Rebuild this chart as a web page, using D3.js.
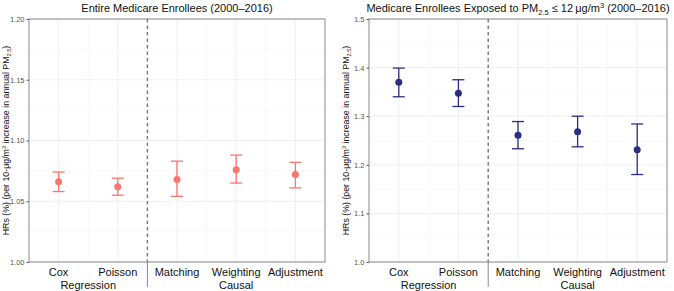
<!DOCTYPE html>
<html>
<head>
<meta charset="utf-8">
<script src="https://cdn.jsdelivr.net/npm/d3@7"></script>
<style>
  body { margin: 0; background: #fff; }
  text { font-family: "Liberation Sans", Arial, sans-serif; }
</style>
</head>
<body>
<div id="chart"></div>
<script>
// data
const categories = ["Cox", "Poisson", "Matching", "Weighting", "Adjustment"];
const groupLabels = [
  { name: "Regression", at: ["Cox", "Poisson"] },
  { name: "Causal", at: ["Weighting"] }
];

const allEst = [1.066, 1.062, 1.068, 1.076, 1.072];
const allLo  = [1.058, 1.055, 1.054, 1.065, 1.061];
const allHi  = [1.074, 1.069, 1.083, 1.088, 1.082];
const allTicks = [1.00, 1.05, 1.10, 1.15, 1.20];

const lowEst = [1.370, 1.347, 1.261, 1.268, 1.231];
const lowLo  = [1.340, 1.320, 1.233, 1.237, 1.180];
const lowHi  = [1.399, 1.375, 1.289, 1.300, 1.284];
const lowTicks = [1.0, 1.1, 1.2, 1.3, 1.4, 1.5];

const W = 674, H = 291;
const svg = d3.select("#chart").append("svg")
  .attr("width", W).attr("height", H);

function panel(opts) {
  const { left, right, top, bottom, est, lo, hi, ticks, fmt, color } = opts;
  const g = svg.append("g");

  const x = d3.scalePoint()
    .domain(categories)
    .range([left, right])
    .padding(0.5);
  const step = x.step();

  const y = d3.scaleLinear()
    .domain([ticks[0], ticks[ticks.length - 1]])
    .range([bottom, top]);

  // minor grid (y)
  const minor = ticks.slice(1).map((t, i) => (t + ticks[i]) / 2);
  g.append("g").selectAll("line").data(minor).join("line")
    .attr("x1", left).attr("x2", right)
    .attr("y1", d => y(d)).attr("y2", d => y(d))
    .attr("stroke", "#f3f3f3").attr("stroke-width", 0.6);
  // major grid (y)
  g.append("g").selectAll("line").data(ticks).join("line")
    .attr("x1", left).attr("x2", right)
    .attr("y1", d => y(d)).attr("y2", d => y(d))
    .attr("stroke", "#ebebeb").attr("stroke-width", 0.8);
  // vertical grid at categories and midpoints
  const vx = [];
  categories.forEach((c, i) => {
    vx.push({ v: x(c), major: true });
    if (i < categories.length - 1 && i !== 1) vx.push({ v: x(c) + step / 2, major: false });
  });
  g.append("g").selectAll("line").data(vx).join("line")
    .attr("x1", d => d.v).attr("x2", d => d.v)
    .attr("y1", top).attr("y2", bottom)
    .attr("stroke", d => d.major ? "#ebebeb" : "#f3f3f3")
    .attr("stroke-width", d => d.major ? 0.8 : 0.6);

  // panel border
  g.append("rect")
    .attr("x", left).attr("y", top)
    .attr("width", right - left).attr("height", bottom - top)
    .attr("fill", "none").attr("stroke", "#8a8a8a").attr("stroke-width", 1);

  // y axis
  const yAxis = g.append("g")
    .attr("transform", `translate(${left},0)`)
    .call(d3.axisLeft(y).tickValues(ticks).tickFormat(d3.format(fmt)).tickSize(2.5).tickPadding(2));
  yAxis.select(".domain").remove();
  yAxis.selectAll(".tick line").attr("stroke", "#555");
  yAxis.selectAll(".tick text").attr("fill", "#555").style("font-size", "7.5px");

  // divider between regression and causal
  const divX = x("Poisson") + step / 2;
  g.append("line")
    .attr("x1", divX).attr("x2", divX).attr("y1", top).attr("y2", bottom)
    .attr("stroke", "#777").attr("stroke-width", 1.4).attr("stroke-dasharray", "3.5,3");
  g.append("line")
    .attr("x1", divX).attr("x2", divX).attr("y1", bottom).attr("y2", bottom + 25)
    .attr("stroke", "#888").attr("stroke-width", 1);

  // x labels
  g.append("g").selectAll("text").data(categories).join("text")
    .attr("x", d => x(d)).attr("y", bottom + 14)
    .attr("text-anchor", "middle")
    .style("font-size", "11px").attr("fill", "#111")
    .text(d => d);
  g.append("g").selectAll("text").data(groupLabels).join("text")
    .attr("x", d => d3.mean(d.at, c => x(c))).attr("y", bottom + 26.5)
    .attr("text-anchor", "middle")
    .style("font-size", "11px").attr("fill", "#111")
    .text(d => d.name);

  // y title
  const yt = g.append("text")
    .attr("transform", `translate(${left - 20},${(top + bottom) / 2}) rotate(-90)`)
    .attr("text-anchor", "middle")
    .style("font-size", "8.8px").attr("fill", "#111");
  yt.append("tspan").text("HRs (%) (per 10-μg/m");
  yt.append("tspan").attr("dy", -3).style("font-size", "5.6px").text("3");
  yt.append("tspan").attr("dy", 3).text(" increase in annual PM");
  yt.append("tspan").attr("dy", 2.2).style("font-size", "5.6px").text("2.5");
  yt.append("tspan").attr("dy", -2.2).text(")");

  // error bars
  const rows = categories.map((c, i) => ({ c, e: est[i], lo: lo[i], hi: hi[i] }));
  const eb = g.append("g").attr("stroke", color).attr("stroke-width", 1.3);
  eb.selectAll(".v").data(rows).join("line")
    .attr("x1", d => x(d.c)).attr("x2", d => x(d.c))
    .attr("y1", d => y(d.lo)).attr("y2", d => y(d.hi));
  eb.selectAll(".t").data(rows).join("line")
    .attr("x1", d => x(d.c) - 6).attr("x2", d => x(d.c) + 6)
    .attr("y1", d => y(d.hi)).attr("y2", d => y(d.hi));
  eb.selectAll(".b").data(rows).join("line")
    .attr("x1", d => x(d.c) - 6).attr("x2", d => x(d.c) + 6)
    .attr("y1", d => y(d.lo)).attr("y2", d => y(d.lo));
  g.append("g").selectAll("circle").data(rows).join("circle")
    .attr("cx", d => x(d.c)).attr("cy", d => y(d.e))
    .attr("r", 3.5).attr("fill", color);

  return g;
}

panel({ left: 29, right: 325, top: 19, bottom: 262,
  est: allEst, lo: allLo, hi: allHi, ticks: allTicks, fmt: ".2f", color: "#F8766D" });
panel({ left: 369, right: 667, top: 19, bottom: 262,
  est: lowEst, lo: lowLo, hi: lowHi, ticks: lowTicks, fmt: ".1f", color: "#2B2D80" });

// titles
svg.append("text")
  .attr("x", 177).attr("y", 12).attr("text-anchor", "middle")
  .style("font-size", "11px").attr("fill", "#111")
  .text("Entire Medicare Enrollees (2000\u20132016)");

const t2 = svg.append("text")
  .attr("x", 518).attr("y", 12).attr("text-anchor", "middle")
  .style("font-size", "11px").attr("fill", "#111");
t2.append("tspan").text("Medicare Enrollees Exposed to PM");
t2.append("tspan").attr("dy", 2.5).style("font-size", "7.5px").text("2.5");
t2.append("tspan").attr("dy", -2.5).text(" \u2264 12\u2009\u03bcg/m");
t2.append("tspan").attr("dy", -4).style("font-size", "7.5px").text("3");
t2.append("tspan").attr("dy", 4).text(" (2000\u20132016)");
</script>
</body>
</html>
